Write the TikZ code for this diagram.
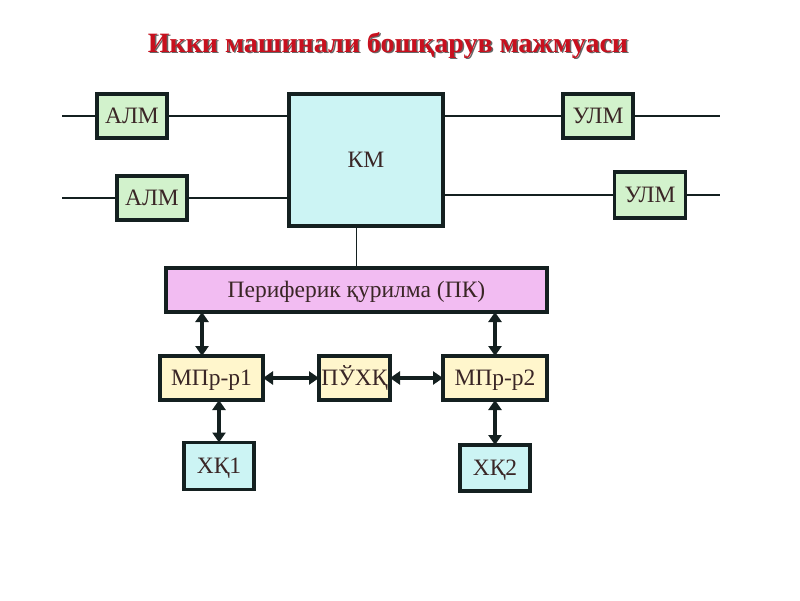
\documentclass[tikz,border=0pt]{standalone}
\usepackage{fontspec}
\setmainfont{Liberation Serif}
\usetikzlibrary{arrows.meta}
\definecolor{titlered}{HTML}{C8101E}
\definecolor{boxtext}{HTML}{3A2626}
\definecolor{kmfill}{HTML}{CCF4F4}
\definecolor{almfill}{HTML}{D2F2CC}
\definecolor{pkfill}{HTML}{F2BCF2}
\definecolor{mprfill}{HTML}{FFF6CC}
\definecolor{chiziq}{HTML}{142020}
\tikzset{
  blok/.style={draw=chiziq, line width=3.2pt, inner sep=0pt, outer sep=0pt,
    text height=15.5pt, text depth=0pt,
    text=boxtext, font=\fontsize{23.5}{25}\selectfont},
  ikki/.style={{Triangle[length=10pt,width=13pt]}-{Triangle[length=10pt,width=13pt]},
    line width=3.6pt, draw=chiziq},
  sim/.style={line width=1.6pt, draw=chiziq}
}
\begin{document}
\begin{tikzpicture}[x=1pt,y=-1pt]
  \useasboundingbox (0,0) rectangle (800,600);

  %% sarlavha
  \node[text=black!60, font=\bfseries\fontsize{28}{30}\selectfont] (soya) at (389.5,46.5)
    {Икки машинали бошқарув мажмуаси};
  \node[text=titlered, font=\bfseries\fontsize{28}{30}\selectfont] (sarlavha) at (388,45)
    {Икки машинали бошқарув мажмуаси};

  %% markaziy mashina
  \node[blok, fill=kmfill, minimum width=154pt, minimum height=132pt] (km) at (366,160) {КМ};

  \node[blok, fill=almfill, minimum width=70pt, minimum height=44pt] (alm1) at (132,116) {АЛМ};
  \node[blok, fill=almfill, minimum width=70pt, minimum height=44pt] (alm2) at (152,198) {АЛМ};
  \node[blok, fill=almfill, minimum width=70pt, minimum height=44pt] (ulm1) at (598,116) {УЛМ};
  \node[blok, fill=almfill, minimum width=71pt, minimum height=46pt] (ulm2) at (650,195) {УЛМ};

  \coordinate (kir1) at (62,116);
  \coordinate (kir2) at (62,198);
  \coordinate (chiq1) at (720,116);
  \coordinate (chiq2) at (720,195);

  \draw[sim] (kir1) -- (alm1);
  \draw[sim] (alm1) -- (alm1 -| km.west);
  \draw[sim] (kir2) -- (alm2);
  \draw[sim] (alm2) -- (alm2 -| km.west);
  \draw[sim] (ulm1 -| km.east) -- (ulm1);
  \draw[sim] (ulm1) -- (chiq1);
  \draw[sim] (ulm2 -| km.east) -- (ulm2);
  \draw[sim] (ulm2) -- (chiq2);

  %% periferiya
  \node[blok, fill=pkfill, minimum width=381pt, minimum height=44pt] (pk) at (356.5,290)
    {Периферик қурилма (ПК)};
  \draw[sim] (pk.north) -- (pk.north |- km.south);

  \node[blok, fill=mprfill, minimum width=103pt, minimum height=44pt] (mpr1) at (211.5,378) {МПр-р1};
  \node[blok, fill=mprfill, minimum width=71pt, minimum height=44pt] (puxk) at (354.5,378) {ПЎХҚ};
  \node[blok, fill=mprfill, minimum width=104pt, minimum height=44pt] (mpr2) at (495,378) {МПр-р2};

  \node[blok, fill=kmfill, minimum width=70pt, minimum height=47pt] (xk1) at (219,466) {ХҚ1};
  \node[blok, fill=kmfill, minimum width=70pt, minimum height=46pt] (xk2) at (495,468) {ХҚ2};

  \draw[ikki] ([xshift=-9.5pt]mpr1.north) -- ([xshift=-9.5pt]mpr1.north |- pk.south); %% mpr1 <-> pk
  \draw[ikki] (mpr2.north) -- (mpr2.north |- pk.south); %% mpr2 <-> pk
  \draw[ikki] (mpr1) -- (puxk);
  \draw[ikki] (puxk) -- (mpr2);
  \draw[ikki] (xk1.north) -- (xk1.north |- mpr1.south); %% xk1 <-> mpr1
  \draw[ikki] (xk2.north) -- (xk2.north |- mpr2.south); %% xk2 <-> mpr2

\end{tikzpicture}
\end{document}
